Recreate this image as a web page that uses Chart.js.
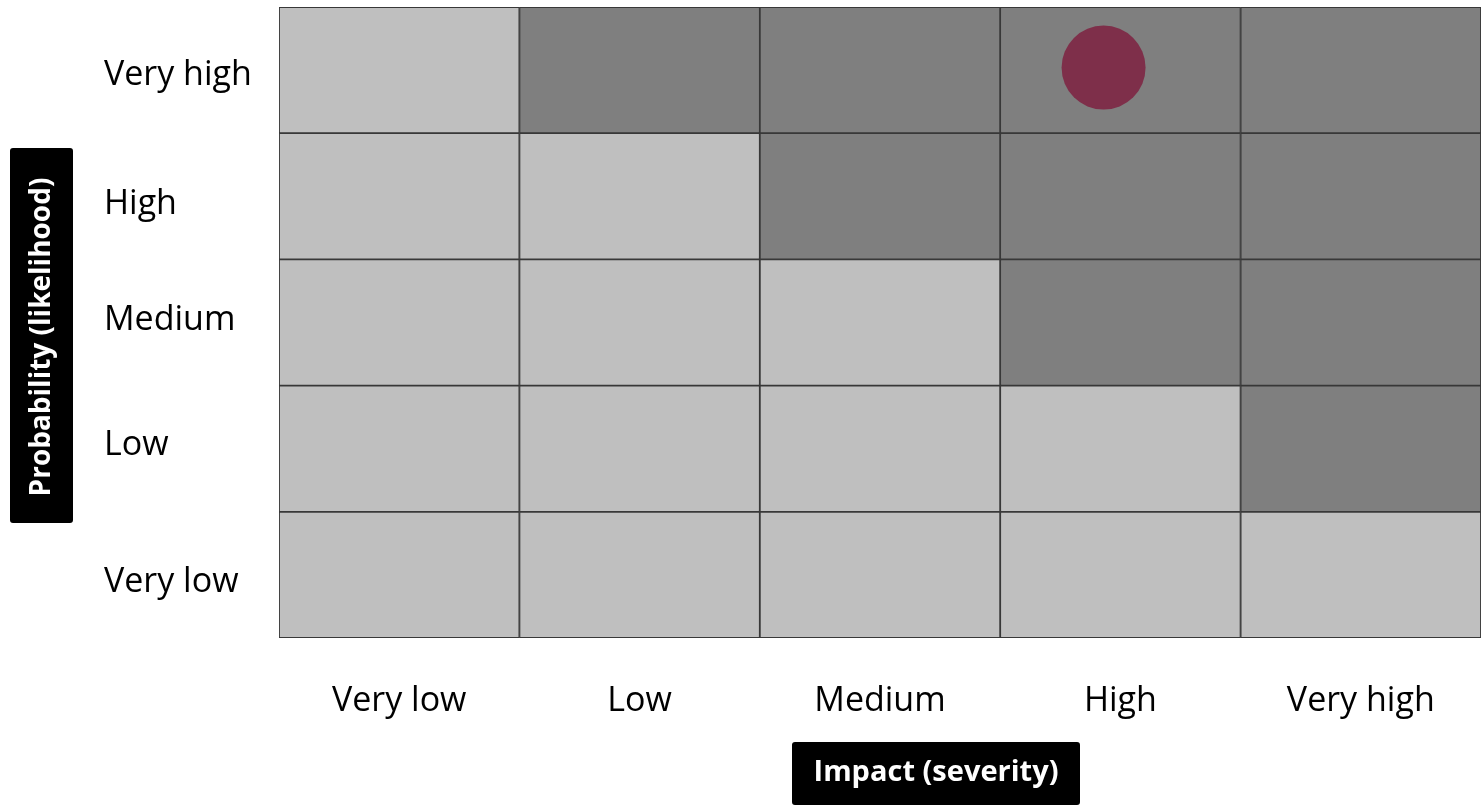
<!DOCTYPE html>
<html>
<head>
<meta charset="utf-8">
<script src="https://cdn.jsdelivr.net/npm/chart.js@4.4.1/dist/chart.umd.min.js"></script>
<style>
  body { margin: 0; background: #fff; }
  #wrap { width: 1484px; height: 811px; }
</style>
</head>
<body>
<div id="wrap"><canvas id="riskChart" width="1484" height="811"></canvas></div>
<script>
// Impact on the x axis, probability on the y axis (bottom to top)
const impactLabels = ["Very low", "Low", "Medium", "High", "Very high"]
const probabilityLabels = ["Very low", "Low", "Medium", "High", "Very high"]
// where the probability labels sit on the 0..5 scale (not quite centred in the source)
const probabilityTickValues = [0.44, 1.53, 2.52, 3.44, 4.46]

// 1 = high risk (dark cell), 0 = low risk (light cell), one array per probability row
const riskVeryLow = [0, 0, 0, 0, 0]
const riskLow = [0, 0, 0, 0, 1]
const riskMedium = [0, 0, 0, 1, 1]
const riskHigh = [0, 0, 1, 1, 1]
const riskVeryHigh = [0, 1, 1, 1, 1]
const riskRows = [riskVeryLow, riskLow, riskMedium, riskHigh, riskVeryHigh]

// the plotted risk: impact index (0 = Very low) and probability value (0..5)
const riskPointX = [2.93]
const riskPointY = [4.52]

const lightCell = "#bfbfbf"
const darkCell = "#7f7f7f"
const fontFamily = "'Open Sans', sans-serif"

// each probability row is a band of floating bars from i to i + 1
const rowDatasets = riskRows.map((row, i) => ({
  type: "bar",
  label: probabilityLabels[i],
  data: row.map(() => [i, i + 1]),
  backgroundColor: row.map((r) => (r ? darkCell : lightCell)),
  borderColor: "#383838",
  borderWidth: 1.25,
  borderSkipped: false,
  grouped: false,
  categoryPercentage: 1,
  barPercentage: 1,
  order: 2,
}))

// draws the black boxes holding the axis titles
const axisTitleBoxes = {
  id: "axisTitleBoxes",
  afterDraw(chart) {
    const ctx = chart.ctx
    ctx.save()
    ctx.fillStyle = "#000"
    ctx.beginPath()
    ctx.roundRect(792, 742, 288, 63, 3)
    ctx.roundRect(10, 148, 63, 375, 3)
    ctx.fill()

    ctx.fillStyle = "#fff"
    ctx.textAlign = "center"
    ctx.textBaseline = "middle"
    ctx.font = "bold 29px " + fontFamily
    ctx.fillText("Impact (severity)", 936, 773)

    ctx.font = "bold 28px " + fontFamily
    ctx.translate(42, 337)
    ctx.rotate(-Math.PI / 2)
    ctx.fillText("Probability (likelihood)", 0, 0)
    ctx.restore()
  },
}

const ctx = document.getElementById("riskChart")

new Chart(ctx, {
  data: {
    labels: impactLabels,
    datasets: [
      ...rowDatasets,
      {
        type: "bubble",
        label: "Risk",
        xAxisID: "xr",
        data: riskPointX.map((x, i) => ({ x: x, y: riskPointY[i], r: 42 })),
        backgroundColor: "#7e2f4a",
        borderWidth: 0,
        order: 1,
      },
    ],
  },
  options: {
    responsive: false,
    animation: false,
    layout: { autoPadding: false, padding: { top: 7, right: 3, left: 104, bottom: 0 } },
    plugins: {
      legend: { display: false },
      tooltip: { enabled: false },
    },
    scales: {
      x: {
        type: "category",
        offset: true,
        grid: { display: false, drawTicks: false },
        border: { display: false },
        ticks: {
          padding: 43,
          color: "#000",
          font: { family: fontFamily, size: 34 },
          maxRotation: 0,
        },
        afterFit(scale) {
          scale.height = 173
          scale.paddingLeft = 0
          scale.paddingRight = 0
        },
      },
      xr: {
        type: "linear",
        min: -0.5,
        max: 4.5,
        display: false,
      },
      y: {
        type: "linear",
        min: 0,
        max: 5,
        grid: { display: false, drawTicks: false },
        border: { display: false },
        afterBuildTicks(scale) {
          scale.ticks = probabilityTickValues.map((v) => ({ value: v }))
        },
        ticks: {
          crossAlign: "far",
          color: "#000",
          font: { family: fontFamily, size: 34 },
          callback: (value, index) => probabilityLabels[index],
        },
        afterFit(scale) {
          scale.width = 175
          scale.paddingTop = 0
          scale.paddingBottom = 0
        },
      },
    },
  },
  plugins: [axisTitleBoxes],
})
</script>
</body>
</html>
